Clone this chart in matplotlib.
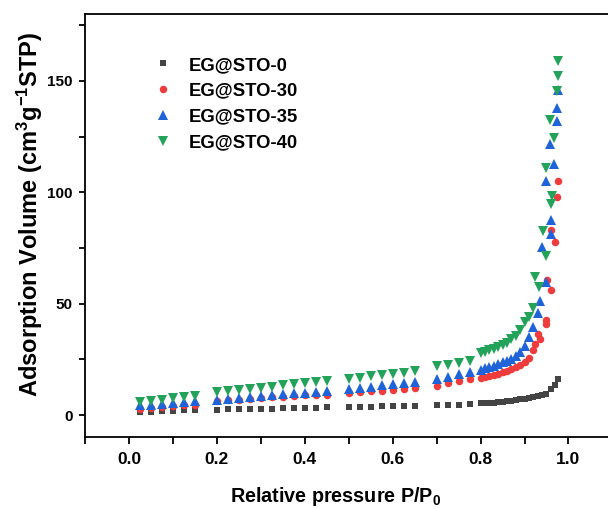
import matplotlib
matplotlib.use("Agg")
import matplotlib.pyplot as plt
from matplotlib.ticker import MultipleLocator

plt.rcParams['font.family'] = ['Liberation Sans', 'DejaVu Sans']
plt.rcParams['font.weight'] = 'bold'
plt.rcParams['mathtext.fontset'] = 'custom'
plt.rcParams['mathtext.rm'] = 'Liberation Sans:bold'
plt.rcParams['mathtext.bf'] = 'Liberation Sans:bold'
plt.rcParams['mathtext.default'] = 'bf'

# ---- data ----
x_low = [0.025, 0.05, 0.075, 0.10, 0.125, 0.15,
         0.20, 0.225, 0.25, 0.275, 0.30, 0.325, 0.35, 0.375, 0.40, 0.425, 0.45,
         0.50, 0.525, 0.55, 0.575, 0.60, 0.625, 0.65,
         0.70, 0.725, 0.75, 0.775]

sto0_low = [1.2, 1.4, 1.8, 1.9, 2.1, 2.2,
            2.4, 2.5, 2.6, 2.7, 2.8, 2.9, 3.0, 3.1, 3.2, 3.3, 3.4,
            3.6, 3.7, 3.8, 3.9, 4.0, 4.1, 4.2,
            4.4, 4.5, 4.6, 4.8]
sto30_low = [2.9, 3.2, 3.6, 3.9, 4.3, 4.6,
             6.3, 6.6, 6.9, 7.2, 7.6, 7.9, 8.2, 8.5, 8.8, 9.0, 9.2,
             9.8, 10.2, 10.6, 11.0, 11.4, 11.8, 12.2,
             13.2, 14.2, 15.2, 16.2]
sto35_low = [4.3, 4.6, 5.0, 5.4, 5.8, 6.2,
             6.7, 7.1, 7.6, 8.0, 8.4, 8.8, 9.3, 9.7, 10.1, 10.4, 10.8,
             11.8, 12.3, 12.8, 13.3, 13.8, 14.3, 14.8,
             16.2, 17.2, 18.2, 19.2]
sto40_low = [5.7, 6.3, 6.9, 7.5, 8.1, 8.7,
             10.2, 10.7, 11.2, 11.8, 12.3, 12.8, 13.4, 13.9, 14.3, 14.8, 15.2,
             16.2, 16.8, 17.3, 17.9, 18.4, 19.0, 19.6,
             21.8, 22.6, 23.4, 24.2]

x0_high = [0.80, 0.81, 0.82, 0.83, 0.84, 0.85, 0.86, 0.87, 0.88, 0.89,
           0.90, 0.91, 0.92, 0.93, 0.94, 0.95, 0.96, 0.97, 0.977]
sto0_high = [5.2, 5.3, 5.4, 5.6, 5.8, 6.0, 6.2, 6.4, 6.7, 7.0,
             7.3, 7.6, 8.0, 8.5, 9.0, 9.6, 11.5, 13.5, 16.0]

x30_high = [0.80, 0.81, 0.82, 0.83, 0.84, 0.85, 0.86, 0.87, 0.88, 0.89,
            0.90, 0.91, 0.92, 0.925, 0.935, 0.93, 0.948, 0.95, 0.952, 0.961,
            0.96, 0.97, 0.974, 0.977]
sto30_high = [16.7, 17.1, 17.5, 18.0, 18.5, 19.1, 19.8, 20.6, 21.5, 22.5,
              24.0, 25.5, 29.0, 32.0, 34.0, 36.5, 41.0, 42.5, 60.5, 56.0,
              83.0, 77.5, 98.0, 105.0]

x35_high = [0.80, 0.81, 0.82, 0.83, 0.84, 0.85, 0.86, 0.87, 0.88, 0.89,
            0.90, 0.91, 0.92, 0.931, 0.935, 0.95, 0.94, 0.96, 0.961, 0.95,
            0.968, 0.958, 0.974, 0.974, 0.977]
sto35_high = [20.4, 21.0, 21.6, 22.2, 22.9, 23.6, 24.4, 25.2, 26.5, 28.5,
              31.0, 35.0, 39.5, 46.0, 51.4, 59.5, 75.6, 81.3, 87.7, 105.2,
              112.6, 121.6, 131.8, 137.8, 145.8]

x40_high = [0.80, 0.81, 0.82, 0.83, 0.84, 0.85, 0.86, 0.87, 0.88, 0.89,
            0.90, 0.91, 0.92, 0.924, 0.934, 0.949, 0.941, 0.96, 0.962, 0.95,
            0.967, 0.958, 0.973, 0.976, 0.976]
sto40_high = [27.7, 28.3, 29.0, 29.6, 30.5, 31.5, 32.5, 34.0, 35.5, 38.0,
              41.6, 44.0, 48.0, 61.8, 57.3, 71.5, 82.8, 94.7, 98.4, 111.1,
              124.3, 132.4, 145.6, 152.3, 159.0]

labels = ['EG@STO-0', 'EG@STO-30', 'EG@STO-35', 'EG@STO-40']
colors = ['#444444', '#EE3B3B', '#1F63D9', '#23A35A']
markers = ['s', 'o', '^', 'v']
msizes = [4.6, 5.4, 7.0, 7.0]

series = [
    (x_low + x0_high, sto0_low + sto0_high),
    (x_low + x30_high, sto30_low + sto30_high),
    (x_low + x35_high, sto35_low + sto35_high),
    (x_low + x40_high, sto40_low + sto40_high),
]

fig = plt.figure(figsize=(6.08, 5.09), dpi=100)
W, H = 608, 509
left, right, top, bottom = 85, 612.4, 14, 437.3
ax = fig.add_axes([left / W, 1 - bottom / H, (right - left) / W, (bottom - top) / H])

for (xs, ys), lab, c, m, ms in zip(series, labels, colors, markers, msizes):
    ax.plot(xs, ys, linestyle='none', marker=m, color=c, markersize=ms,
            markeredgewidth=0, label=lab)

ax.set_xlim(-0.1, 1.1)
ax.set_ylim(-10, 180)
ax.xaxis.set_minor_locator(MultipleLocator(0.1))
ax.yaxis.set_minor_locator(MultipleLocator(25))
ax.set_xticks([0.0, 0.2, 0.4, 0.6, 0.8, 1.0])
ax.set_xticklabels(['0.0', '0.2', '0.4', '0.6', '0.8', '1.0'])
ax.set_yticks([0, 50, 100, 150])
ax.set_yticklabels(['0', '50', '100', '150'])

for s in ax.spines.values():
    s.set_linewidth(1.3)
ax.spines['right'].set_visible(False)

ax.tick_params(which='both', direction='out', width=1.3, top=False, right=False)
ax.tick_params(axis='x', which='both', length=5)
ax.tick_params(axis='y', which='both', length=4.5)
ax.tick_params(axis='x', which='major', labelsize=12.5, pad=5.5)
ax.tick_params(axis='y', which='major', labelsize=11, pad=4.5)
for lbl in ax.get_xticklabels() + ax.get_yticklabels():
    lbl.set_fontweight('bold')

ax.set_xlabel('Relative pressure P/P$_\\mathbf{0}$', fontsize=14.2,
              fontweight='bold')
ax.set_ylabel('Adsorption Volume (cm$^\\mathbf{3}$g$^\\mathbf{-1}$STP)',
              fontsize=17, fontweight='bold')
ax.xaxis.set_label_coords(0.476, -0.112)
ax.yaxis.set_label_coords(-0.0758, 0.527)

leg = ax.legend(loc='upper left', bbox_to_anchor=(0.108, 0.916), frameon=False,
                prop={'size': 13.3, 'weight': 'bold'}, handlelength=1.5,
                handletextpad=0.63, labelspacing=0.47, borderaxespad=0)

fig.savefig('out.png', dpi=100)
